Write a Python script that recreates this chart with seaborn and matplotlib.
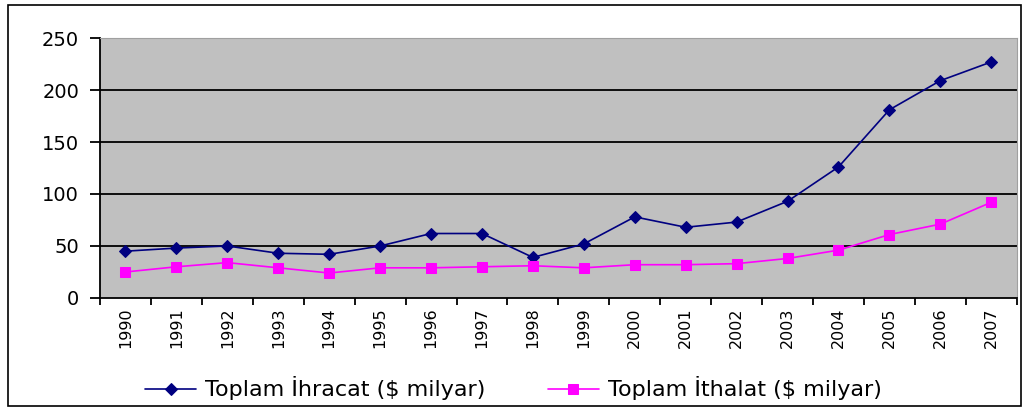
import numpy as np
import pandas as pd
import seaborn as sns
import matplotlib.pyplot as plt
from matplotlib.patches import Rectangle

# Data ($ milyar)
years = ['1990', '1991', '1992', '1993', '1994', '1995', '1996', '1997', '1998',
         '1999', '2000', '2001', '2002', '2003', '2004', '2005', '2006', '2007']
ihracat = [45, 48, 50, 43, 42, 50, 62, 62, 39, 52, 78, 68, 73, 93, 126, 181, 209, 227]
ithalat = [25, 30, 34, 29, 24, 29, 29, 30, 31, 29, 32, 32, 33, 38, 46, 61, 71, 92]

df = pd.DataFrame({'pos': np.arange(len(years)), 'year': years,
                   'ihracat': ihracat, 'ithalat': ithalat})

sns.set_style('white')
plt.rcParams['font.family'] = ['DejaVu Sans']
plt.rcParams['text.color'] = 'black'
plt.rcParams['xtick.color'] = 'black'
plt.rcParams['ytick.color'] = 'black'

fig = plt.figure(figsize=(10.27, 4.11), dpi=100)
ax = fig.add_axes([0.0974, 0.275, 0.8926, 0.6325])

ax.set_facecolor('#C0C0C0')
for y in [50, 100, 150, 200]:
    ax.axhline(y, color='black', lw=1.3, zorder=1)

sns.lineplot(data=df, x='pos', y='ihracat', ax=ax, color='#000080', lw=1.2,
             marker='D', markersize=6, markeredgecolor='#000080',
             label='Toplam İhracat ($ milyar)', zorder=3)
sns.lineplot(data=df, x='pos', y='ithalat', ax=ax, color='#FF00FF', lw=1.2,
             marker='s', markersize=7, markeredgecolor='#FF00FF',
             label='Toplam İthalat ($ milyar)', zorder=3)

ax.set_xlim(-0.5, len(years) - 0.5)
ax.set_ylim(0, 250)
ax.set_yticks([0, 50, 100, 150, 200, 250])
ax.tick_params(axis='y', labelsize=14, length=7, width=1.3, direction='out',
               left=True, pad=8)

# categories sit between tick marks, like Excel
ax.set_xticks(np.arange(len(years) + 1) - 0.5, minor=False)
ax.set_xticklabels([])
ax.set_xticks(df['pos'], minor=True)
ax.set_xticklabels(years, minor=True, rotation=90, fontsize=11.5)
ax.tick_params(axis='x', which='major', length=5, width=1.3, bottom=True,
               direction='out')
ax.tick_params(axis='x', which='minor', length=0, pad=7)

ax.set_xlabel('')
ax.set_ylabel('')

ax.spines['left'].set_color('black')
ax.spines['left'].set_linewidth(1.3)
ax.spines['bottom'].set_color('black')
ax.spines['bottom'].set_linewidth(1.3)
ax.spines['top'].set_color('#A0A0A0')
ax.spines['right'].set_color('#A0A0A0')

ax.get_legend().remove()
handles, labels = ax.get_legend_handles_labels()
fig.legend(handles, labels, loc='center', bbox_to_anchor=(0.5, 0.055), ncol=2,
           frameon=False, fontsize=16, handlelength=2.3, columnspacing=2.8,
           handletextpad=0.4, labelcolor='black')

fig.add_artist(Rectangle((0.008, 0.012), 0.986, 0.975, transform=fig.transFigure,
                         fill=False, edgecolor='black', lw=1.2))

fig.savefig('out.png', dpi=100)
